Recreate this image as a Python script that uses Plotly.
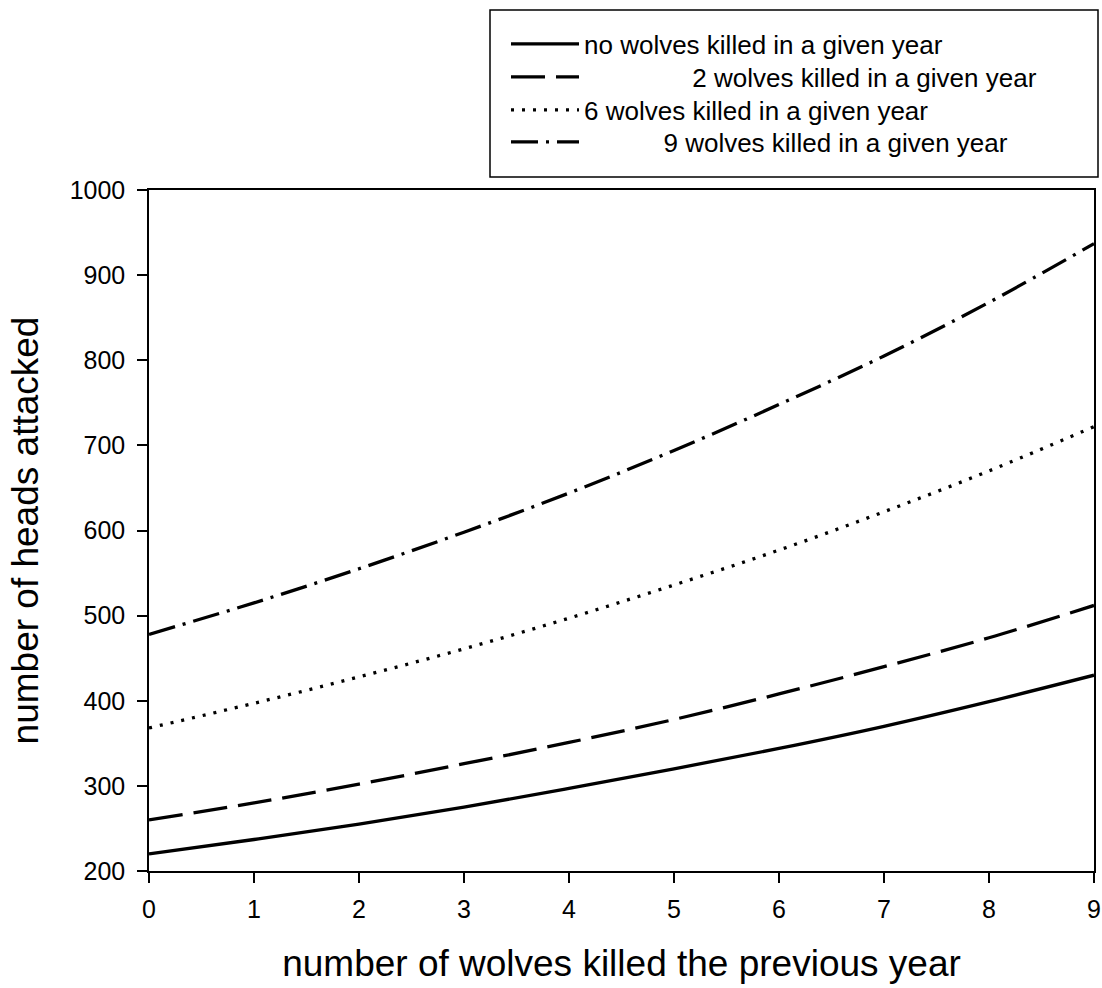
import plotly.graph_objects as go

x_vals = [0, 1, 2, 3, 4, 5, 6, 7, 8, 9]
no_killed = [220, 237, 255, 275, 297, 320, 344, 370, 399, 430]
two_killed = [260, 280, 302, 326, 351, 378, 408, 440, 474, 512]
six_killed = [368, 397, 428, 461, 497, 536, 577, 622, 670, 722]
nine_killed = [478, 515, 555, 598, 644, 694, 748, 805, 868, 937]

names = ["no wolves killed in a given year",
         "               2 wolves killed in a given year",
         "6 wolves killed in a given year",
         "           9 wolves killed in a given year"]
series = [no_killed, two_killed, six_killed, nine_killed]
dashes = ["solid", "34px,11px", "3px,8px", "27px,8px,3px,8px"]
legend_ids = ["legend", "legend2", "legend3", "legend4"]
row_centers_px = [44, 77, 110, 142]

fig = go.Figure()
for nm, ys, ds, lg in zip(names, series, dashes, legend_ids):
    fig.add_trace(go.Scatter(x=x_vals, y=ys, mode="lines", name=nm, legend=lg,
                             line=dict(color="black", width=3.3, dash=ds, shape="spline")))

font_family = "Liberation Sans, Arial, sans-serif"
# legend frame
fig.add_shape(type="rect", xref="paper", yref="paper",
              x0=(490 - 149) / 945, x1=(1098 - 149) / 945,
              y0=(871 - 177) / 681, y1=(871 - 10) / 681,
              line=dict(color="black", width=1.5), fillcolor="rgba(0,0,0,0)")

legend_cfg = {}
for lg, yc in zip(legend_ids, row_centers_px):
    legend_cfg[lg] = dict(x=(506 - 149) / 945, y=(871 - yc) / 681, xanchor="left",
                          yanchor="middle", borderwidth=0, bgcolor="rgba(0,0,0,0)",
                          font=dict(size=26, family=font_family), itemwidth=68)

fig.update_layout(
    width=1102, height=988,
    margin=dict(l=149, r=8, t=190, b=117, autoexpand=False),
    paper_bgcolor="white", plot_bgcolor="white",
    font=dict(family=font_family, color="black"),
    showlegend=True,
    **legend_cfg,
    xaxis=dict(range=[0, 9], tickvals=x_vals, ticks="outside", ticklen=10,
               tickwidth=1.5, tickcolor="black", showline=True, linecolor="black",
               linewidth=1.5, mirror=True, showgrid=False, zeroline=False,
               tickfont=dict(size=25), ticklabelstandoff=5,
               title=dict(text="number of wolves killed the previous year",
                          font=dict(size=37), standoff=28)),
    yaxis=dict(range=[200, 1000], tickvals=list(range(200, 1001, 100)), ticks="outside",
               ticklen=10, tickwidth=1.5, tickcolor="black", showline=True,
               linecolor="black", linewidth=1.5, mirror=True, showgrid=False,
               zeroline=False, tickfont=dict(size=25), ticklabelstandoff=7,
               title=dict(text="number of heads attacked", font=dict(size=37), standoff=20)),
)
fig.write_html("out.html", config={"displayModeBar": False},
               post_script="document.body.style.margin='0';document.body.style.overflow='hidden';")
